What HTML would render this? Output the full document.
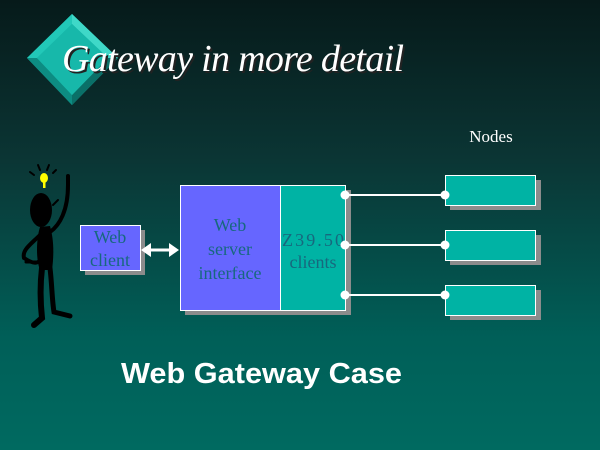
<!DOCTYPE html>
<html><head><style>
html,body{margin:0;padding:0;}
body{width:600px;height:450px;overflow:hidden;background:linear-gradient(#061a1a 0%,#0b3534 35%,#005f58 75%,#006a60 100%);}
</style></head><body>
<svg width="600" height="450" xmlns="http://www.w3.org/2000/svg" style="position:absolute;left:0;top:0">
<polygon points="72,14 118,58 72,105 27,58" fill="#14b5a8"/>
<polygon points="72,14 118,58 108,58 72,24" fill="#3fd8c8"/>
<polygon points="72,14 27,58 37,58 72,24" fill="#22c8b8"/>
<polygon points="27,58 72,105 72,95 37,58" fill="#0d8c82"/>
<polygon points="118,58 72,105 72,95 108,58" fill="#0a7068"/>
<polygon points="72,24 108,58 72,95 37,58" fill="#17b8aa"/>
<text x="64" y="73" font-family="Liberation Serif,serif" font-style="italic" font-size="38" fill="#222" textLength="342">Gateway in more detail</text>
<text x="62" y="71" font-family="Liberation Serif,serif" font-style="italic" font-size="38" fill="#fff" textLength="342">Gateway in more detail</text>
<text x="491" y="142" font-family="Liberation Serif,serif" font-size="17" fill="#fff" text-anchor="middle">Nodes</text>
<g fill="#000" stroke="#000" stroke-linecap="round">
<ellipse cx="41" cy="210" rx="11" ry="17" stroke="none"/>
<path d="M40 227 C36 240 36 260 40 270 L52 270 C54 255 54 240 50 226 Z" stroke="none"/>
<path d="M50 232 C60 225 68 210 68 185 L68 176" stroke-width="4" fill="none"/>
<path d="M40 235 C30 245 22 250 24 258 C30 262 35 264 38 262" stroke-width="4" fill="none"/>
<path d="M26 262 L38 262" stroke-width="3"/>
<path d="M42 268 C40 285 40 300 42 318 L34 325" stroke-width="6" fill="none"/>
<path d="M50 268 C52 285 52 300 54 312 L70 316" stroke-width="5" fill="none"/>
<path d="M53 205 L58 200" stroke-width="2"/>
<path d="M30 172 L34 175 M38 165 L40 170 M49 165 L47 170 M56 170 L53 173" stroke-width="2"/>
</g>
<ellipse cx="44" cy="178" rx="4" ry="5" fill="#ffff00"/>
<rect x="43" y="182" width="2.5" height="6" fill="#ffff00"/>
<rect x="85" y="230" width="60" height="45" fill="#8c8c8c"/>
<rect x="80.5" y="225.5" width="60" height="45" fill="#6666ff" stroke="#fff"/>
<g font-family="Liberation Serif,serif" font-size="18" fill="#17687e" text-anchor="middle">
<text x="110" y="243">Web</text>
<text x="110" y="266">client</text>
</g>
<line x1="148" y1="250" x2="172" y2="250" stroke="#fff" stroke-width="3"/>
<polygon points="141,250 151,243 151,257" fill="#fff"/>
<polygon points="179,250 169,243 169,257" fill="#fff"/>
<rect x="185" y="190" width="166" height="125" fill="#8c8c8c"/>
<rect x="180.5" y="185.5" width="100" height="125" fill="#6666ff" stroke="#fff"/>
<rect x="280.5" y="185.5" width="65" height="125" fill="#00b3a4" stroke="#fff"/>
<g font-family="Liberation Serif,serif" font-size="18" fill="#17687e" text-anchor="middle">
<text x="230" y="231">Web</text>
<text x="230" y="255">server</text>
<text x="230" y="279">interface</text>
<text x="313" y="246" textLength="62">Z39.50</text>
<text x="313" y="268">clients</text>
</g>
<g>
<rect x="450" y="180" width="91" height="30" fill="#8c8c8c"/>
<rect x="445.5" y="175.5" width="90" height="30" fill="#00b3a4" stroke="#fff"/>
<rect x="450" y="235" width="91" height="30" fill="#8c8c8c"/>
<rect x="445.5" y="230.5" width="90" height="30" fill="#00b3a4" stroke="#fff"/>
<rect x="450" y="290" width="91" height="30" fill="#8c8c8c"/>
<rect x="445.5" y="285.5" width="90" height="30" fill="#00b3a4" stroke="#fff"/>
</g>
<g stroke="#fff" stroke-width="2" fill="#fff">
<line x1="345" y1="195" x2="445" y2="195"/>
<line x1="345" y1="245" x2="445" y2="245"/>
<line x1="345" y1="295" x2="445" y2="295"/>
<circle cx="345" cy="195" r="4.5" stroke="none"/>
<circle cx="345" cy="245" r="4.5" stroke="none"/>
<circle cx="345" cy="295" r="4.5" stroke="none"/>
<circle cx="445" cy="195" r="4.5" stroke="none"/>
<circle cx="445" cy="245" r="4.5" stroke="none"/>
<circle cx="445" cy="295" r="4.5" stroke="none"/>
</g>
<text x="121" y="383" font-family="Liberation Sans,sans-serif" font-weight="bold" font-size="29" fill="#fff" textLength="281" lengthAdjust="spacingAndGlyphs">Web Gateway Case</text>
</svg>
</body></html>
